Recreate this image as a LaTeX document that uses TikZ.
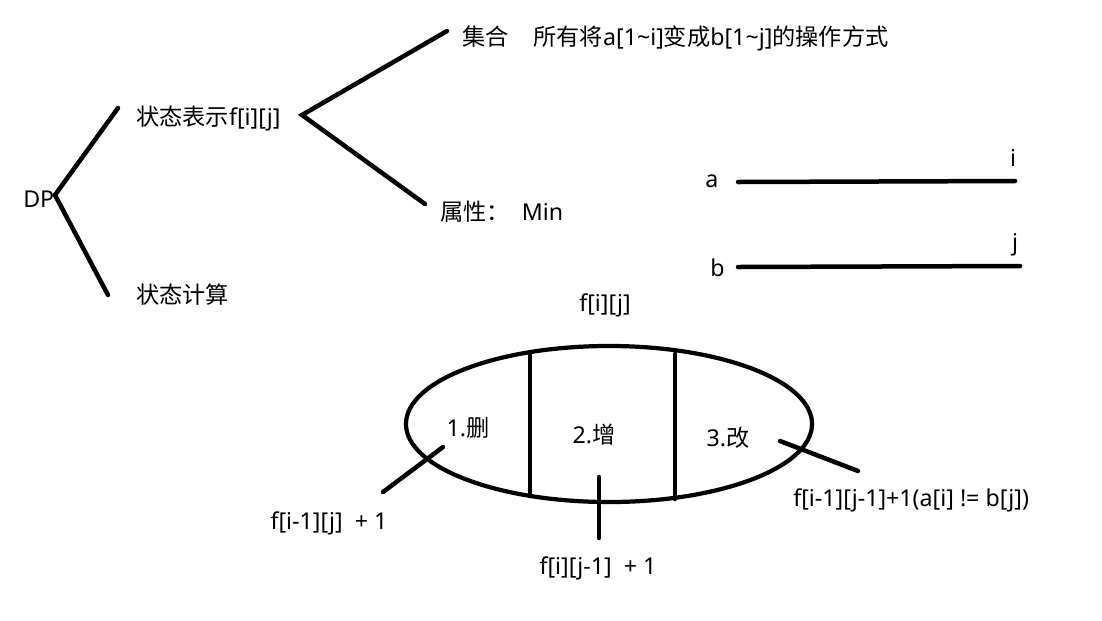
\documentclass[tikz,border=0pt]{standalone}
\usepackage{fontspec}
\setmainfont{Noto Sans}
\newfontfamily\cjk{Noto Sans CJK SC}
\usetikzlibrary{positioning, shapes.geometric}
\tikzset{
  stroke/.style={line width=3.2pt, line cap=round},
  lbl/.style={inner sep=0pt, anchor=west, font=\fontsize{16.5pt}{19pt}\selectfont},
  clbl/.style={lbl, anchor=center},
  oval/.style={draw, ellipse, line width=3pt, inner sep=0pt,
    minimum width=10.15cm, minimum height=3.9cm}
}
\newcommand{\zh}[1]{{\cjk #1}}
\begin{document}
\begin{tikzpicture}[x=0.025cm, y=-0.025cm]
  \useasboundingbox (0,0) rectangle (1102,620);

  % tree
  \node[lbl] (dp) at (23,199) {DP};
  \node[lbl] (repr) at (136,118) {\zh{状态表示}f[i][j]};
  \node[lbl] (calc) at (136,295) {\zh{状态计算}};
  \node[lbl] (set) at (462,38) {\zh{集合}\hspace{0.62cm}\zh{所有将}a[1\textasciitilde i]\zh{变成}b[1\textasciitilde j]\zh{的操作方式}};
  \node[lbl] (attr) at (440,212) {\zh{属性：}\hspace{0.3cm}Min};

  \coordinate (dpR) at (55,195);
  \coordinate (reprL) at (118,108);
  \coordinate (calcL) at (108,295);
  \coordinate (reprR) at (302,115);
  \coordinate (setL) at (447,31);
  \coordinate (attrL) at (425,204);

  \draw[stroke] (reprL) -- (dpR) -- (calcL);
  \draw[stroke] (setL) -- (reprR) -- (attrL);

  % strings a and b
  \node[lbl] (a) at (705,181) {a};
  \node[lbl] (b) at (710,268) {b};
  \node[clbl] (i) at (1013,158) {i};
  \node[clbl] (j) at (1015,245) {j};
  \coordinate (aL) at (738,182);
  \coordinate (aR) at (1015,181);
  \coordinate (bL) at (738,267);
  \coordinate (bR) at (1020,266);
  \draw[stroke] (aL) -- (aR);
  \draw[stroke] (bL) -- (bR);

  % state split
  \node[clbl] (fij) at (605,305) {f[i][j]};
  \node[oval] (op) at (609,424) {};
  \coordinate (v1t) at (530,352);
  \coordinate (v1b) at (530,496);
  \coordinate (v2t) at (675,354);
  \coordinate (v2b) at (675,499);
  \draw[stroke] (v1t) -- (v1b);
  \draw[stroke] (v2t) -- (v2b);

  \node[clbl] (del) at (468,428) {1.\zh{删}};
  \node[clbl] (ins) at (594,435) {2.\zh{增}};
  \node[clbl] (chg) at (728,438) {3.\zh{改}};

  \coordinate (d1) at (443,447);
  \coordinate (d2) at (383,492);
  \coordinate (i1) at (599,477);
  \coordinate (i2) at (599,538);
  \coordinate (c1) at (780,441);
  \coordinate (c2) at (858,471);
  \draw[stroke] (d1) -- (d2);
  \draw[stroke] (i1) -- (i2);
  \draw[stroke] (c1) -- (c2);

  \node[clbl] (delf) at (329,523) {f[i-1][j]\ \ + 1};
  \node[clbl] (insf) at (598,568) {f[i][j-1]\ \ + 1};
  \node[lbl] (chgf) at (793,500) {f[i-1][j-1]+1(a[i] != b[j])};
\end{tikzpicture}
\end{document}
